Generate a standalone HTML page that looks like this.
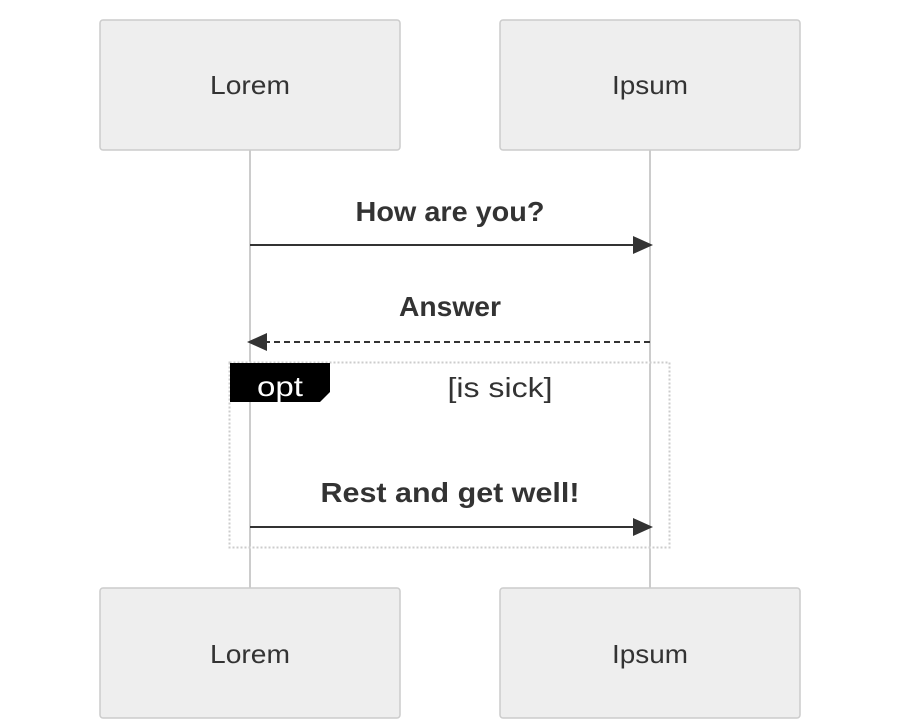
<!DOCTYPE html>
<html><head><style>body{margin:0;background:#fff}</style></head><body>
<svg width="900" height="720" xmlns="http://www.w3.org/2000/svg" font-family="Liberation Sans, sans-serif">
<rect width="900" height="720" fill="#fff"/>
<line x1="250" y1="150" x2="250" y2="588" stroke="#999" stroke-width="1"/>
<line x1="650" y1="150" x2="650" y2="588" stroke="#999" stroke-width="1"/>
<g fill="#eee" stroke="#ccc" stroke-width="1.5">
<rect x="100" y="20" width="300" height="130" rx="3"/>
<rect x="500" y="20" width="300" height="130" rx="3"/>
<rect x="100" y="588" width="300" height="130" rx="3"/>
<rect x="500" y="588" width="300" height="130" rx="3"/>
</g>
<g font-size="26" fill="#333" text-anchor="middle">
<text x="250" y="94" textLength="80" lengthAdjust="spacingAndGlyphs">Lorem</text>
<text x="650" y="94" textLength="76" lengthAdjust="spacingAndGlyphs">Ipsum</text>
<text x="250" y="663" textLength="80" lengthAdjust="spacingAndGlyphs">Lorem</text>
<text x="650" y="663" textLength="76" lengthAdjust="spacingAndGlyphs">Ipsum</text>
</g>
<g font-weight="bold" font-size="28" fill="#333" text-anchor="middle">
<text x="450" y="221" textLength="189" lengthAdjust="spacingAndGlyphs">How are you?</text>
<text x="450" y="316" textLength="102" lengthAdjust="spacingAndGlyphs">Answer</text>
<text x="450" y="502" textLength="259" lengthAdjust="spacingAndGlyphs">Rest and get well!</text>
</g>
<line x1="250" y1="245" x2="636" y2="245" stroke="#333" stroke-width="2"/>
<polygon points="633,236 653,245 633,254" fill="#333"/>
<line x1="264" y1="342" x2="650" y2="342" stroke="#333" stroke-width="2" stroke-dasharray="6,4"/>
<polygon points="267,333 247,342 267,351" fill="#333"/>
<rect x="229.5" y="362.5" width="440" height="185" fill="none" stroke="#ccc" stroke-width="2" stroke-dasharray="2,2"/>
<polygon points="230,363 330,363 330,392 320,402 230,402" fill="#000"/>
<text x="280" y="396" font-size="28" fill="#fff" text-anchor="middle" textLength="46" lengthAdjust="spacingAndGlyphs">opt</text>
<text x="500" y="397" font-size="28" fill="#333" text-anchor="middle" textLength="105" lengthAdjust="spacingAndGlyphs">[is sick]</text>
<line x1="250" y1="527" x2="636" y2="527" stroke="#333" stroke-width="2"/>
<polygon points="633,518 653,527 633,536" fill="#333"/>
</svg>
</body></html>
